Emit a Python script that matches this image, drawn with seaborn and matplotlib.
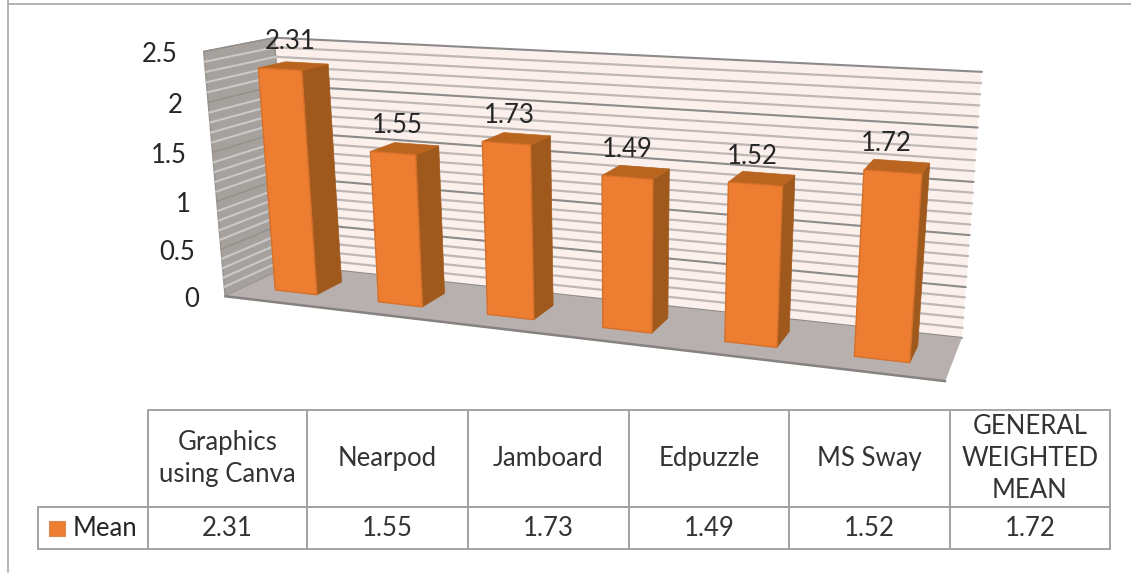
import numpy as np
import matplotlib
matplotlib.use("Agg")
import matplotlib.pyplot as plt
from matplotlib.patches import Polygon, Rectangle
from matplotlib.transforms import IdentityTransform, Transform
import seaborn as sns

# Chart data
CATEGORIES = ["Graphics\nusing Canva", "Nearpod", "Jamboard", "Edpuzzle", "MS Sway",
              "GENERAL\nWEIGHTED\nMEAN"]
MEAN = [2.31, 1.55, 1.73, 1.49, 1.52, 1.72]
VALUE_TICKS = [0, 0.5, 1, 1.5, 2, 2.5]
VALUE_TICK_LABELS = ["0", "0.5", "1", "1.5", "2", "2.5"]
SERIES_NAME = "Mean"

W, H = 1131, 573
FONT = "Lato"
FS = 18.5

# Camera calibration: chart-box corners (category, value, depth) and where they land in pixels
BOX_WORLD = np.array([(0, 0, 0), (6, 0, 0), (0, 0, 1), (6, 0, 1),
                      (0, 2.5, 1), (6, 2.5, 1), (0, 2.5, 0)], float)
BOX_PIXEL = np.array([(224, 296), (945, 382), (292, 266), (962, 337),
                      (273, 38), (982, 72), (205, 51)], float)


def fit_camera(world, pixel):
    rows, rhs = [], []
    for (x, y, z), (u, v) in zip(world, pixel):
        rows.append([x, y, z, 1, 0, 0, 0, 0, -u * x, -u * y, -u * z])
        rows.append([0, 0, 0, 0, x, y, z, 1, -v * x, -v * y, -v * z])
        rhs += [u, v]
    p = np.linalg.lstsq(np.array(rows), np.array(rhs), rcond=None)[0]
    return np.append(p, 1.0).reshape(3, 4)


CAMERA = fit_camera(BOX_WORLD, BOX_PIXEL)


def project(x, y, z):
    """World position to display coordinates (origin bottom-left)."""
    x, y, z = np.broadcast_arrays(x, y, z)
    hom = np.stack([x, y, z, np.ones_like(x, dtype=float)], axis=-1) @ CAMERA.T
    return np.stack([hom[..., 0] / hom[..., 2], H - hom[..., 1] / hom[..., 2]], axis=-1)


class BarPlaneTransform(Transform):
    """Maps seaborn's (category index, value) onto a plane of constant depth."""
    input_dims = output_dims = 2
    is_separable = False
    has_inverse = False

    def __init__(self, plane_depth):
        super().__init__()
        self.plane_depth = plane_depth

    def transform_non_affine(self, values):
        values = np.asarray(values, float)
        return project(values[:, 0] + 0.5, values[:, 1], self.plane_depth)


BAR_WIDTH = 0.41
DEPTH_FRONT, DEPTH_BACK = 0.30, 0.70

sns.set_theme(style="white")
plt.rcParams["font.family"] = [FONT, "DejaVu Sans"]

fig = plt.figure(figsize=(W / 100, H / 100), dpi=100, facecolor="white")
ax = fig.add_axes([0, 0, 1, 1])
ax.set_xlim(-0.5, 5.5)
ax.set_ylim(0, 2.5)
ax.set_axis_off()
pix = IdentityTransform()


def face(points, **kw):
    ax.add_patch(Polygon(np.array(points), closed=True, transform=pix, clip_on=False, **kw))


# Back wall, side wall and floor
face([project(0, 0, 1), project(6, 0, 1), project(6, 2.5, 1), project(0, 2.5, 1)],
     facecolor="#FBF0EB", edgecolor="none", zorder=1)
face([project(0, 0, 0), project(0, 0, 1), project(0, 2.5, 1), project(0, 2.5, 0)],
     facecolor="#A6A19D", edgecolor="#97938F", linewidth=1.0, zorder=1)

for step in range(26):
    v = step / 10
    major = step % 5 == 0
    back = np.array([project(0, v, 1), project(6, v, 1)])
    ax.plot(*back.T, transform=pix, clip_on=False, zorder=1.5,
            color="#8C8A8A" if major else "#BDB8B7", lw=1.5 if major else 1.6)
    side = np.array([project(0, v, 0), project(0, v, 1)])
    ax.plot(*side.T, transform=pix, clip_on=False, zorder=1.5,
            color="#93908C" if major else "#CBC8C5", lw=1.0 if major else 1.5)

face([project(0, 0, 0), project(6, 0, 0), project(6, 0, 1), project(0, 0, 1)],
     facecolor="#B8B0AF", edgecolor="none", zorder=2)
front_edge = np.array([project(0, 0, 0), project(6, 0, 0)])
ax.plot(*front_edge.T, transform=pix, clip_on=False, color="#85827F", lw=1.8, zorder=2.1)

# Front faces come from seaborn, then get carried onto their plane in depth
sns.barplot(x=list(range(len(MEAN))), y=MEAN, color="#ED7D31", saturation=1, width=BAR_WIDTH,
            edgecolor="#D4702A", linewidth=1.0, ax=ax, native_scale=False)
ax.set_xlim(-0.5, 5.5)
ax.set_ylim(0, 2.5)
ax.set_axis_off()

plane = BarPlaneTransform(DEPTH_FRONT)
for patch in ax.patches:
    if isinstance(patch, Rectangle):
        patch.set_transform(plane)
        patch.set_clip_on(False)
        patch.set_zorder(5)

for i, value in enumerate(MEAN):
    left, right = i + 0.5 - BAR_WIDTH / 2, i + 0.5 + BAR_WIDTH / 2
    face([project(right, 0, DEPTH_FRONT), project(right, 0, DEPTH_BACK),
          project(right, value, DEPTH_BACK), project(right, value, DEPTH_FRONT)],
         facecolor="#A0591D", edgecolor="#A0591D", linewidth=0.5, zorder=4)
    face([project(left, value, DEPTH_FRONT), project(right, value, DEPTH_FRONT),
          project(right, value, DEPTH_BACK), project(left, value, DEPTH_BACK)],
         facecolor="#B9651F", edgecolor="#B9651F", linewidth=0.5, zorder=4)
    # Value label above the bar; its x follows the bar's lean only partly
    px = project(i + 0.5, value * 0.4, DEPTH_FRONT)[0]
    py = project(i + 0.5, value, DEPTH_FRONT)[1]
    ax.text(px, py + 28, f"{value:.2f}", transform=pix, ha="center", va="center",
            fontsize=FS, color="#262626", zorder=6, clip_on=False)

# Value axis labels, set off from the side wall's front edge
for v, label in zip(VALUE_TICKS, VALUE_TICK_LABELS):
    px, py = project(0, v, 0)
    ax.text(px - 26, py - 3, label, transform=pix, ha="right", va="center",
            fontsize=FS, color="#262626", clip_on=False)

# Data table under the chart
overlay = fig.add_axes([0, 0, 1, 1])
overlay.set_xlim(0, W)
overlay.set_ylim(H, 0)
overlay.set_axis_off()
overlay.patch.set_alpha(0)

col_edges = np.array([38, 148, 307, 468, 629, 789, 950, 1110], float)
row_edges = np.array([410, 507, 549], float)
table = overlay.table(
    cellText=[[""] + CATEGORIES, [""] + [f"{m:.2f}" for m in MEAN]],
    cellLoc="center",
    colWidths=list(np.diff(col_edges)),
    bbox=[col_edges[0] / W, 1 - row_edges[-1] / H,
          (col_edges[-1] - col_edges[0]) / W, (row_edges[-1] - row_edges[0]) / H],
)
table.auto_set_font_size(False)
table.set_fontsize(FS)
for (r, c), cell in table.get_celld().items():
    cell.set_height(np.diff(row_edges)[r])
    cell.set_edgecolor("#A3A3A3")
    cell.set_linewidth(1.4)
    cell.set_facecolor("none")
    cell.get_text().set_color("#333333")
    cell.get_text().set_linespacing(1.33)
table[(0, 0)].visible_edges = "BR"

overlay.add_patch(Rectangle((49, 521), 16, 15, facecolor="#ED7D31", edgecolor="#D98A4E", lw=0.8))
overlay.text(73, 528, SERIES_NAME, ha="left", va="center", fontsize=FS, color="#262626")

# Thin picture frame
overlay.plot([8, 8], [0, 572], color="#A8A8A8", lw=1.2, clip_on=False)
overlay.plot([8, 1131], [4, 4], color="#A8A8A8", lw=1.2, clip_on=False)

fig.savefig("out.png", dpi=100, facecolor="white")
